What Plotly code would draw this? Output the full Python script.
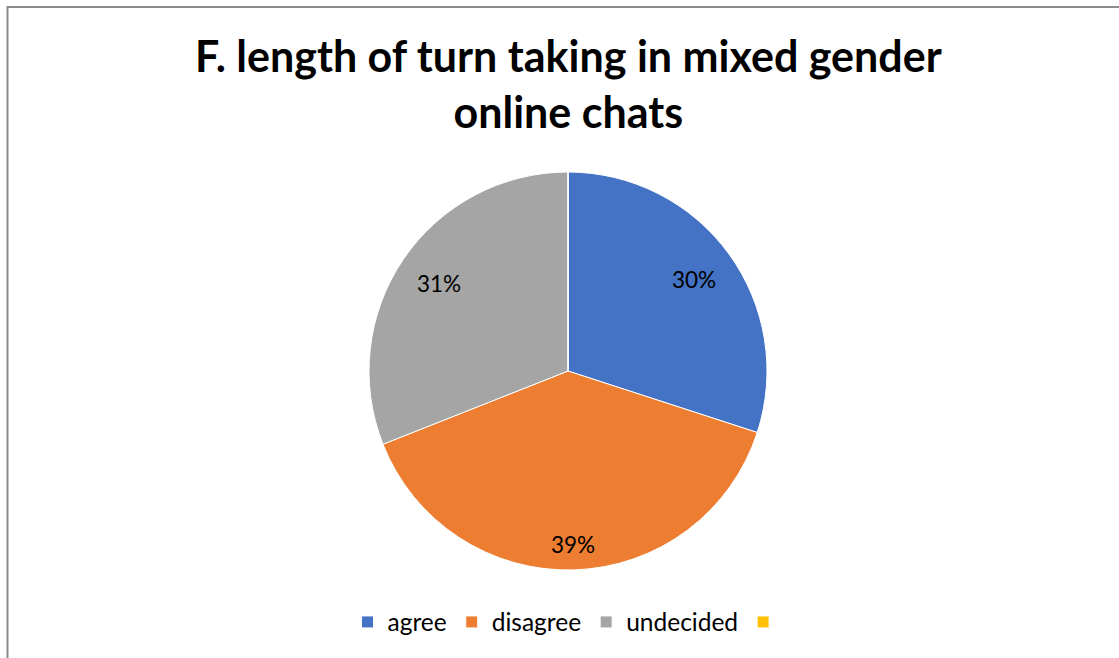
import math
import plotly.graph_objects as go

# Survey responses for statement F
categories = ["agree", "disagree", "undecided", " "]
shares = [30, 39, 31, 0]
slice_colors = ["#4472C4", "#ED7D31", "#A5A5A5", "#FFC000"]

title_lines = ["F. length of turn taking in mixed gender", "online chats"]

W, H = 1119, 658
FONT = "Lato"

# pie placement in pixels (centre and radius)
cx, cy, rad = 568, 371, 199
# radial position of each data label, as a fraction of the radius
label_radius = [0.783, 0.874, 0.784, 0.8]

fig = go.Figure(
    go.Pie(
        labels=categories,
        values=shares,
        sort=False,
        direction="clockwise",
        rotation=0,
        marker=dict(colors=slice_colors, line=dict(color="white", width=1)),
        textinfo="none",
        hoverinfo="label+percent",
        domain=dict(
            x=[(cx - rad) / W, (cx + rad) / W],
            y=[(H - cy - rad) / H, (H - cy + rad) / H],
        ),
        showlegend=True,
    )
)

# percentage labels placed along each slice's mid-angle
annotations = []
total = sum(shares)
cum = 0.0
for v, f in zip(shares, label_radius):
    if v > 0:
        theta = math.radians(360.0 * (cum + v / 2.0) / total)
        px = cx + f * rad * math.sin(theta)
        py = cy - f * rad * math.cos(theta)
        annotations.append(
            dict(
                text=f"{v}%",
                x=px / W,
                y=1 - py / H,
                xref="paper",
                yref="paper",
                xanchor="center",
                yanchor="middle",
                showarrow=False,
                font=dict(family=FONT, size=22.5, color="black"),
            )
        )
    cum += v

# two-line bold title
annotations.append(
    dict(
        text="<b>" + "<br>".join(title_lines) + "</b>",
        x=568 / W,
        y=1 - 28 / H,
        xref="paper",
        yref="paper",
        xanchor="center",
        yanchor="top",
        showarrow=False,
        font=dict(family=FONT, size=43, color="black"),
    )
)

fig.update_layout(
    width=W,
    height=H,
    margin=dict(l=0, r=0, t=0, b=0),
    paper_bgcolor="white",
    plot_bgcolor="white",
    font=dict(family=FONT, color="black"),
    annotations=annotations,
    legend=dict(
        orientation="h",
        x=571 / W,
        xanchor="center",
        y=1 - 622 / H,
        yanchor="middle",
        font=dict(family=FONT, size=24.5, color="black"),
        itemwidth=30,
        bgcolor="rgba(0,0,0,0)",
    ),
    shapes=[
        dict(
            type="rect",
            xref="paper",
            yref="paper",
            x0=7.5 / W,
            x1=1.05,
            y0=-0.05,
            y1=1 - 7 / H,
            line=dict(color="#8C8C8C", width=2),
            fillcolor="rgba(0,0,0,0)",
            layer="below",
        )
    ],
)

fig.write_html("out.html")
